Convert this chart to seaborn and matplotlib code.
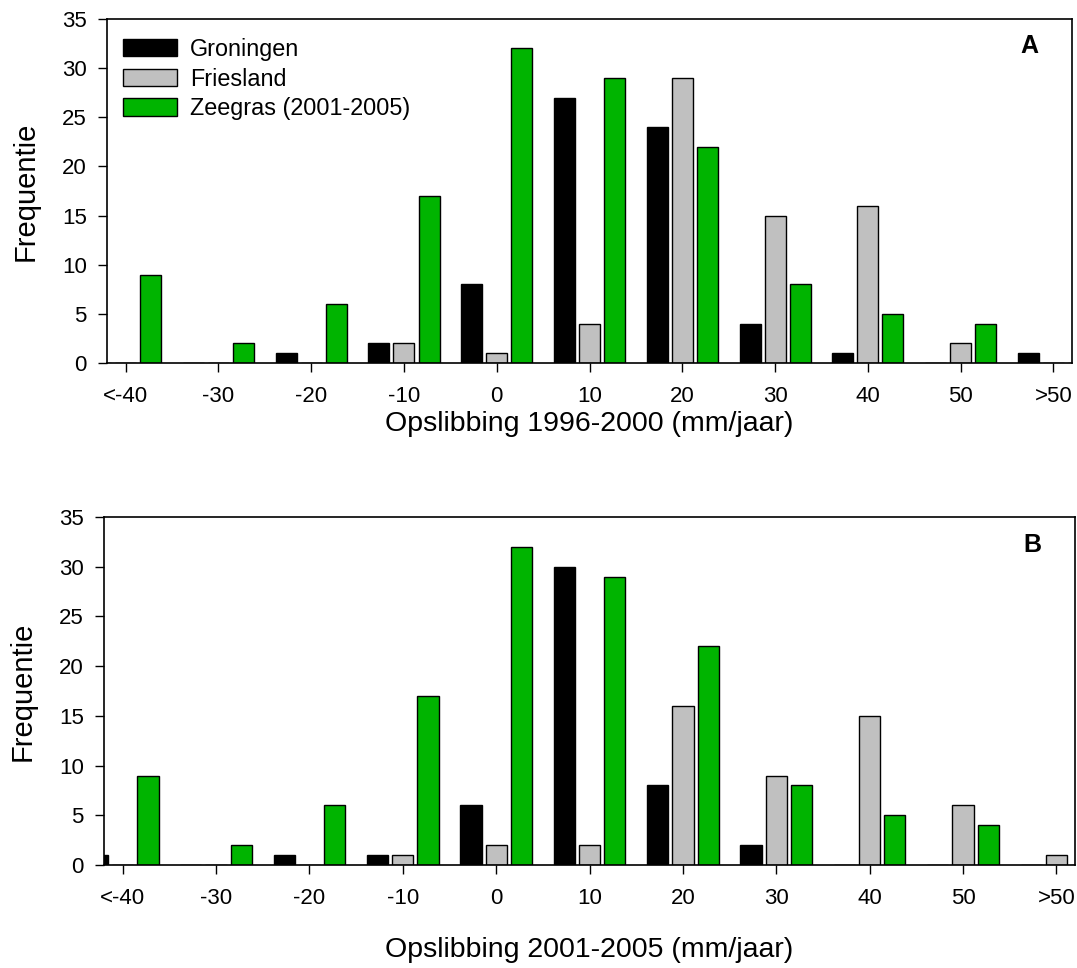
import pandas as pd
import numpy as np
import matplotlib
matplotlib.use('Agg')
import matplotlib.pyplot as plt
import seaborn as sns

# klassen opslibbing (mm/jaar)
klassen = ['<-40', '-30', '-20', '-10', '0', '10', '20', '30', '40', '50', '>50']
gebieden = ['Groningen', 'Friesland', 'Zeegras (2001-2005)']

# panel A: 1996-2000
groningen_a = [0, 0, 1, 2, 8, 27, 24, 4, 1, 0, 1]
friesland_a = [0, 0, 0, 2, 1, 4, 29, 15, 16, 2, 0]
zeegras_a = [9, 2, 6, 17, 32, 29, 22, 8, 5, 4, 0]

# panel B: 2001-2005
groningen_b = [1, 0, 1, 1, 6, 30, 8, 2, 0, 0, 0]
friesland_b = [0, 0, 0, 1, 2, 2, 16, 9, 15, 6, 1]
zeegras_b = [9, 2, 6, 17, 32, 29, 22, 8, 5, 4, 0]

kleuren = ['#000000', '#c0c0c0', '#00b400']


def maak_df(g, f, z):
    rows = []
    for naam, vals in zip(gebieden, [g, f, z]):
        for k, v in zip(klassen, vals):
            rows.append({'klasse': k, 'gebied': naam, 'freq': v})
    return pd.DataFrame(rows)


df_a = maak_df(groningen_a, friesland_a, zeegras_a)
df_b = maak_df(groningen_b, friesland_b, zeegras_b)

sns.set_style('ticks')
plt.rcParams['font.family'] = ['Liberation Sans', 'DejaVu Sans']
plt.rcParams['text.color'] = 'black'
plt.rcParams['axes.labelcolor'] = 'black'
plt.rcParams['xtick.color'] = 'black'
plt.rcParams['ytick.color'] = 'black'

fig = plt.figure(figsize=(10.77, 9.68), dpi=100)
ax1 = fig.add_axes([0.0994, 0.625, 0.896, 0.3554])
ax2 = fig.add_axes([0.0966, 0.1064, 0.9016, 0.3595])

panels = [(ax1, df_a, 'A', 'Opslibbing 1996-2000 (mm/jaar)', 3),
          (ax2, df_b, 'B', 'Opslibbing 2001-2005 (mm/jaar)', 20)]

for ax, df, letter, xlab, xpad in panels:
    sns.barplot(data=df, x='klasse', y='freq', hue='gebied', order=klassen,
                hue_order=gebieden, palette=kleuren, saturation=1,
                width=0.81, gap=0.16, edgecolor='black', linewidth=1.0, ax=ax)
    ax.set_xlim(-0.2, 10.2)
    ax.set_ylim(0, 35)
    ax.set_yticks(np.arange(0, 36, 5))
    ax.set_xlabel(xlab, fontsize=20.5, labelpad=xpad)
    ax.set_ylabel('Frequentie', fontsize=21, labelpad=16)
    ax.tick_params(axis='both', labelsize=16, direction='out', length=6.5,
                   width=1.0, color='black', pad=8, labelcolor='black')
    ax.tick_params(axis='x', pad=10)
    for s in ax.spines.values():
        s.set_visible(True)
        s.set_linewidth(1.2)
        s.set_color('black')
    ax.text(0.956, 0.92, letter, transform=ax.transAxes, fontsize=18,
            fontweight='bold', ha='center', va='center')

ax2.get_legend().remove()
handles, labels = ax1.get_legend_handles_labels()
ax1.get_legend().remove()
ax1.legend(handles, labels, loc='upper left', bbox_to_anchor=(0.012, 0.958),
           frameon=False, fontsize=16.8, handlelength=2.3, handleheight=0.75,
           handletextpad=0.55, labelspacing=0.28, borderaxespad=0, borderpad=0.2)

fig.savefig('out.png', dpi=100)
